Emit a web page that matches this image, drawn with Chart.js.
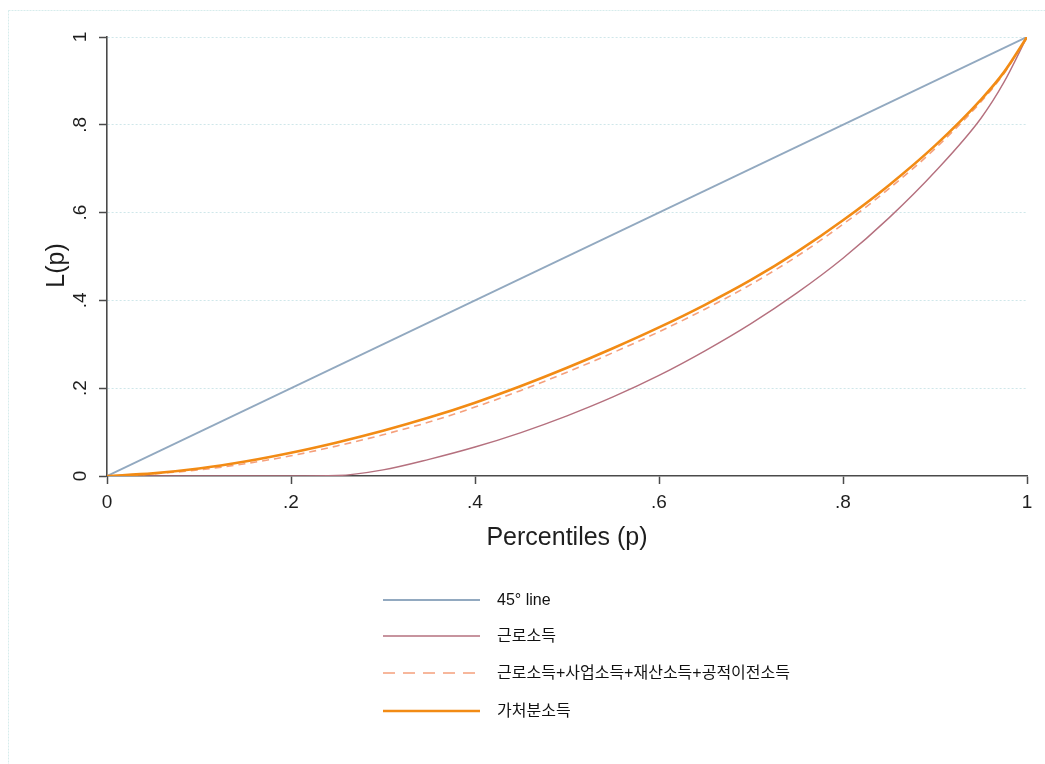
<!DOCTYPE html>
<html>
<head>
<meta charset="utf-8">
<script src="https://cdn.jsdelivr.net/npm/chart.js@4/dist/chart.umd.min.js"></script>
<style>
  html, body { margin: 0; padding: 0; background: #ffffff; }
  #wrap { width: 1045px; height: 764px; }
</style>
</head>
<body>
<div id="wrap"><canvas id="lorenz" width="1045" height="764"></canvas></div>
<script>
// Cumulative population share (p) and cumulative income shares L(p)
const percentiles = [0, 0.05, 0.1, 0.15, 0.2, 0.25, 0.3, 0.35, 0.4, 0.45, 0.5,
                     0.55, 0.6, 0.65, 0.7, 0.75, 0.8, 0.85, 0.9, 0.95, 0.975, 1];
const equalityP = [0, 1];
const equalityL = [0, 1];
const earnedIncome = [0, 0, 0, 0, 0, 0.001, 0.014, 0.038, 0.066, 0.099, 0.137,
                      0.180, 0.229, 0.285, 0.347, 0.417, 0.496, 0.588, 0.693, 0.815, 0.897, 1];
const marketPlusTransfers = [0, 0.005, 0.014, 0.028, 0.046, 0.0685, 0.094, 0.123, 0.157, 0.195, 0.2365,
                             0.281, 0.3285, 0.380, 0.4365, 0.5005, 0.5735, 0.6545, 0.7455, 0.8525, 0.917, 1];
const disposableIncome = [0, 0.006, 0.017, 0.033, 0.053, 0.0765, 0.103, 0.133, 0.167, 0.205, 0.2465,
                          0.291, 0.3385, 0.390, 0.4465, 0.5105, 0.5825, 0.6625, 0.7525, 0.8575, 0.920, 1];
const seriesLabels = ['45° line', '근로소득', '근로소득+사업소득+재산소득+공적이전소득', '가처분소득'];
const axisTicks = [0, 0.2, 0.4, 0.6, 0.8, 1];
const yTitle = 'L(p)';
const xTitle = 'Percentiles (p)';

const toPoints = (xs, ys) => xs.map((x, i) => ({ x: x, y: ys[i] }));
const fmtTick = v => {
  const r = Math.round(v * 10) / 10;
  if (r === 0) return '0';
  if (r === 1) return '1';
  return '.' + Math.round(r * 10);
};

const AXIS = '#4a4a4a';
const GRID = '#cfe7ea';
const FONT = '"Liberation Sans", Arial, "Noto Sans CJK KR", sans-serif';

// Light dotted frame around the whole graph region
const frame = {
  id: 'frame',
  beforeDraw(chart) {
    const ctx = chart.ctx;
    ctx.save();
    ctx.fillStyle = '#ffffff';
    ctx.fillRect(0, 0, chart.width, chart.height);
    ctx.strokeStyle = '#d6ecec';
    ctx.lineWidth = 1;
    ctx.setLineDash([2, 1]);
    ctx.strokeRect(8.5, 10.5, chart.width + 20, chart.height + 20);
    ctx.restore();
  }
};

// Vertical y tick labels and y title, reading bottom to top
const yAxisText = {
  id: 'yAxisText',
  afterDraw(chart) {
    const s = chart.scales.y;
    const ctx = chart.ctx;
    ctx.save();
    ctx.fillStyle = '#1e1e1e';
    ctx.textAlign = 'center';
    ctx.textBaseline = 'middle';
    ctx.font = '19px ' + FONT;
    s.ticks.forEach(t => {
      const y = s.getPixelForValue(t.value);
      ctx.save();
      ctx.translate(s.right - 26, y);
      ctx.rotate(-Math.PI / 2);
      ctx.fillText(fmtTick(t.value), 0, 0);
      ctx.restore();
    });
    ctx.font = '25px ' + FONT;
    ctx.translate(s.right - 50, (s.top + s.bottom) / 2 + 9);
    ctx.rotate(-Math.PI / 2);
    ctx.fillText(yTitle, 0, 0);
    ctx.restore();
  }
};

// Single-column key below the plot
const keyBox = {
  id: 'keyBox',
  afterDraw(chart) {
    const ctx = chart.ctx;
    const rows = [600, 636, 673, 711];
    const x0 = 383, x1 = 480, tx = 497;
    ctx.save();
    chart.data.datasets.forEach((ds, i) => {
      const y = rows[i];
      ctx.strokeStyle = ds.borderColor;
      ctx.lineWidth = ds.borderWidth;
      ctx.setLineDash(ds.borderDash ? [12, 8] : []);
      ctx.beginPath();
      ctx.moveTo(x0, y);
      ctx.lineTo(x1, y);
      ctx.stroke();
      ctx.setLineDash([]);
      ctx.fillStyle = '#111111';
      ctx.font = '16px ' + FONT;
      ctx.textAlign = 'left';
      ctx.textBaseline = 'middle';
      ctx.fillText(ds.label, tx, y + 1);
    });
    ctx.restore();
  }
};

new Chart(document.getElementById('lorenz'), {
  type: 'line',
  data: {
    datasets: [
      { label: seriesLabels[0], data: toPoints(equalityP, equalityL),
        borderColor: '#92a9c0', borderWidth: 2, order: 3 },
      { label: seriesLabels[1], data: toPoints(percentiles, earnedIncome),
        borderColor: '#b5707e', borderWidth: 1.4, order: 2 },
      { label: seriesLabels[2], data: toPoints(percentiles, marketPlusTransfers),
        borderColor: '#f5a07c', borderWidth: 1.6, borderDash: [7, 5], order: 1 },
      { label: seriesLabels[3], data: toPoints(percentiles, disposableIncome),
        borderColor: '#f28b14', borderWidth: 2.6, order: 0 }
    ]
  },
  options: {
    responsive: false,
    animation: false,
    devicePixelRatio: 1,
    layout: { padding: { top: 37, right: 18, left: 0, bottom: 211 } },
    elements: {
      point: { radius: 0 },
      line: { cubicInterpolationMode: 'monotone', fill: false }
    },
    plugins: {
      legend: { display: false },
      tooltip: { enabled: false }
    },
    scales: {
      x: {
        type: 'linear', min: 0, max: 1,
        afterBuildTicks: s => { s.ticks = axisTicks.map(v => ({ value: v })); },
        afterFit: s => { s.height = 77; },
        ticks: { callback: v => fmtTick(v), font: { size: 19, family: FONT }, color: '#1e1e1e',
                 padding: 7, maxRotation: 0, autoSkip: false },
        grid: { drawOnChartArea: false, tickLength: 8, tickColor: AXIS, tickWidth: 1.5 },
        border: { color: AXIS, width: 1.6 },
        title: { display: true, text: xTitle, color: '#1e1e1e',
                 font: { size: 25, family: FONT }, padding: { top: 0, bottom: 0 } }
      },
      y: {
        type: 'linear', min: 0, max: 1,
        afterBuildTicks: s => { s.ticks = axisTicks.map(v => ({ value: v })); },
        afterFit: s => { s.width = 107; },
        ticks: { display: false },
        grid: {
          tickLength: 8, tickColor: AXIS, tickWidth: 1.5, lineWidth: 1,
          color: c => (c.tick && c.tick.value === 0) ? 'rgba(0,0,0,0)' : GRID
        },
        border: { color: AXIS, width: 1.6, dash: [2, 2] },
        title: { display: false }
      }
    }
  },
  plugins: [frame, yAxisText, keyBox]
});
</script>
</body>
</html>
